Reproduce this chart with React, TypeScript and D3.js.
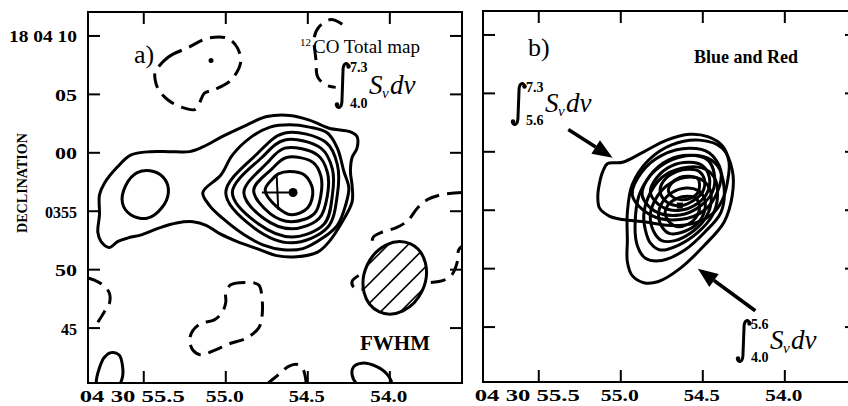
import React from 'react';
import * as d3 from 'd3';

type Pt = [number, number];

// ---------- axes ----------
const raTicks = [55.5, 55.0, 54.5, 54.0];
const raTickLabels = ['04 30 55.5', '55.0', '54.5', '54.0'];
const decTicks = [10, 5, 0, -5, -10, -15];
const decTickLabels = ['18 04 10', '05', '00', '0355', '50', '45'];
const raDomain: [number, number] = [55.84, 53.56];
const decDomain: [number, number] = [12.05, -19.7];

// ---------- panel a: 12CO total map (RA seconds, Dec arcsec offset from 18 04 00) ----------
const aOuter: Pt[] = [[55.77,-3.6],[55.74,-2.6],[55.66,-1.2],[55.58,-0.2],[55.46,0.1],[55.34,0.1],[55.22,0.1],[55.14,0.5],[55.02,1.4],[54.87,2.4],[54.75,3.1],[54.61,3.2],[54.49,2.8],[54.37,2.1],[54.24,1.8],[54.20,1.4],[54.20,0.4],[54.23,-0.4],[54.24,-1.6],[54.23,-2.8],[54.23,-4.2],[54.29,-5.9],[54.37,-7.6],[54.44,-8.5],[54.57,-8.9],[54.69,-8.8],[54.81,-8.2],[54.93,-7.6],[55.04,-6.9],[55.12,-6.2],[55.20,-5.9],[55.30,-6.0],[55.40,-6.4],[55.51,-7.0],[55.60,-7.3],[55.66,-7.6],[55.71,-8.1],[55.76,-7.6],[55.78,-6.8],[55.77,-5.3]];
const aWestBlob: Pt[] = [[55.61,-2.8],[55.54,-1.7],[55.44,-1.6],[55.37,-2.3],[55.35,-3.4],[55.39,-4.7],[55.48,-5.6],[55.58,-5.3],[55.63,-4.3]];
const aLevel2: Pt[] = [[55.14,-3.4],[55.03,-1.9],[54.96,-0.2],[54.85,1.3],[54.73,2.2],[54.61,2.4],[54.49,2.2],[54.38,1.7],[54.32,0.4],[54.28,-1.6],[54.25,-3.0],[54.27,-4.5],[54.32,-6.2],[54.41,-7.3],[54.53,-8.2],[54.65,-8.3],[54.77,-7.9],[54.89,-7.0],[55.02,-5.6],[55.10,-4.5]];
const aLevel3: Pt[] = [[55.00,-3.4],[54.81,-0.1],[54.64,1.7],[54.39,0.9],[54.32,-1.0],[54.32,-3.6],[54.38,-6.4],[54.60,-7.7],[54.83,-6.4]];
const aLevel4: Pt[] = [[54.96,-3.4],[54.78,-0.4],[54.64,1.1],[54.42,0.4],[54.35,-1.4],[54.35,-3.6],[54.40,-6.1],[54.60,-7.2],[54.80,-6.1]];
const aLevel5: Pt[] = [[54.89,-3.4],[54.75,-0.9],[54.64,0.4],[54.44,-0.2],[54.38,-1.7],[54.38,-3.6],[54.43,-5.6],[54.60,-6.5],[54.77,-5.6]];
const aLevel6: Pt[] = [[54.83,-3.2],[54.72,-1.4],[54.63,-0.4],[54.47,-0.8],[54.42,-2.0],[54.42,-3.6],[54.46,-5.2],[54.60,-5.9],[54.73,-5.2]];
const aLevel7: Pt[] = [[54.76,-3.2],[54.72,-2.3],[54.68,-1.8],[54.61,-1.6],[54.52,-1.9],[54.47,-3.2],[54.50,-4.7],[54.60,-5.3],[54.69,-4.6]];
const aSouthWestBlob: Pt[] = [[55.79,-19.7],[55.77,-18.4],[55.74,-17.5],[55.70,-17.1],[55.65,-17.3],[55.63,-18.2],[55.63,-19.2],[55.66,-20.1],[55.73,-20.6],[55.78,-20.3]];
const aSouthEastBlob: Pt[] = [[54.20,-19.8],[54.23,-19.0],[54.22,-18.3],[54.17,-18.0],[54.08,-18.3],[54.02,-18.9],[53.99,-19.8],[54.09,-20.5]];

const aNegNorth: Pt[] = [[55.43,6.9],[55.35,8.2],[55.23,9.0],[55.11,9.8],[54.99,9.8],[54.93,9.0],[54.91,7.7],[54.97,6.2],[55.07,5.4],[55.13,5.1],[55.16,4.3],[55.19,3.7],[55.27,3.9],[55.35,4.5],[55.41,5.4],[55.43,6.2]];
const aNegSouth: Pt[] = [[55.00,-12.0],[54.97,-11.3],[54.88,-11.1],[54.80,-11.3],[54.78,-12.3],[54.78,-14.1],[54.80,-15.0],[54.88,-15.9],[54.97,-16.3],[55.07,-16.9],[55.15,-17.3],[55.20,-16.9],[55.22,-16.0],[55.20,-15.2],[55.15,-14.6],[55.07,-14.3],[55.02,-13.6],[55.00,-12.8]];
const aNegNorthEast: Pt[] = [[54.29,11.0],[54.36,11.4],[54.43,10.8],[54.46,9.9],[54.45,7.9],[54.44,6.5],[54.39,5.8],[54.33,5.6]];
const aNegEastUpper: Pt[] = [[53.56,-3.4],[53.69,-3.6],[53.77,-4.0],[53.83,-4.7],[53.89,-5.8],[53.96,-6.4],[54.05,-6.8],[54.10,-7.2],[54.11,-7.7]];
const aNegEastLeft: Pt[] = [[54.19,-10.5],[54.23,-11.0],[54.22,-11.5],[54.17,-11.7]];
const aNegEastRight: Pt[] = [[53.75,-11.1],[53.67,-10.9],[53.62,-10.4],[53.59,-9.4],[53.58,-8.3],[53.56,-8.0]];
const aNegWest: Pt[] = [[55.84,-10.7],[55.80,-10.9],[55.75,-11.3],[55.71,-12.0],[55.71,-12.9],[55.74,-13.6],[55.78,-14.5]];
const aNegBottom: Pt[] = [[54.75,-19.8],[54.68,-19.0],[54.62,-18.3],[54.57,-18.1],[54.53,-18.5],[54.51,-19.7]];

const aPeak: Pt = [54.59, -3.4];
const aCrossH: Pt[] = [[54.78, -3.4], [54.59, -3.4]];
const aCrossV: Pt[] = [[54.69, -1.9], [54.68, -4.9]];
const aNorthDot: Pt = [55.09, 7.9];

const beamCenter: Pt = [53.97, -10.7];
const beamMajor = 6.4; // arcsec
const beamMinor = 5.2; // arcsec
const beamPA = -25; // degrees

// ---------- panel b: blue (5.6-7.3) and red (4.0-5.6) maps ----------
const bHigh: Pt[][] = [
  [[55.08,-1.0],[54.99,-0.9],[54.86,0.0],[54.72,1.0],[54.58,1.5],[54.47,1.3],[54.38,0.5],[54.34,-0.9],[54.35,-2.6],[54.38,-4.1],[54.44,-5.3],[54.55,-6.1],[54.70,-6.3],[54.85,-6.0],[54.99,-5.8],[55.07,-5.5],[55.13,-4.8],[55.14,-3.8],[55.13,-2.7],[55.11,-1.7]],
  [[54.93,-3.7],[54.87,-1.7],[54.75,-0.3],[54.58,0.3],[54.46,-0.1],[54.39,-1.6],[54.41,-3.4],[54.49,-5.0],[54.64,-5.8],[54.82,-5.4]],
  [[54.87,-3.7],[54.82,-2.0],[54.71,-0.7],[54.58,-0.3],[54.47,-0.7],[54.43,-1.9],[54.44,-3.4],[54.52,-4.7],[54.64,-5.4],[54.79,-5.1]],
  [[54.82,-3.5],[54.78,-2.2],[54.69,-1.2],[54.58,-0.9],[54.50,-1.2],[54.46,-2.2],[54.47,-3.4],[54.53,-4.4],[54.64,-5.0],[54.75,-4.7]],
  [[54.76,-3.4],[54.74,-2.5],[54.66,-1.7],[54.58,-1.5],[54.52,-1.7],[54.49,-2.4],[54.50,-3.4],[54.55,-4.1],[54.63,-4.6],[54.72,-4.3]],
  [[54.71,-3.3],[54.69,-2.7],[54.64,-2.2],[54.58,-2.1],[54.53,-2.3],[54.52,-2.9],[54.53,-3.5],[54.58,-4.0],[54.63,-4.1],[54.68,-3.9]],
];
const bLow: Pt[][] = [
  [[54.96,-5.2],[54.93,-2.8],[54.83,-0.7],[54.69,0.6],[54.52,1.0],[54.38,0.3],[54.32,-1.6],[54.32,-3.7],[54.37,-6.0],[54.49,-8.0],[54.64,-10.0],[54.77,-11.1],[54.86,-11.2],[54.93,-10.6],[54.96,-9.4],[54.96,-7.6]],
  [[54.91,-5.4],[54.88,-3.4],[54.79,-1.6],[54.65,-0.5],[54.50,-0.4],[54.41,-1.2],[54.37,-3.1],[54.39,-5.2],[54.49,-6.9],[54.61,-8.4],[54.75,-9.3],[54.85,-9.1],[54.90,-8.0]],
  [[54.86,-5.4],[54.83,-3.8],[54.75,-2.2],[54.63,-1.4],[54.50,-1.4],[54.43,-2.2],[54.41,-3.8],[54.44,-5.4],[54.53,-6.9],[54.65,-8.0],[54.76,-8.4],[54.82,-7.8],[54.85,-6.7]],
  [[54.82,-5.4],[54.79,-4.1],[54.72,-2.9],[54.61,-2.2],[54.52,-2.3],[54.46,-3.1],[54.45,-4.4],[54.49,-5.8],[54.57,-6.9],[54.67,-7.6],[54.75,-7.6],[54.80,-6.8]],
  [[54.77,-5.3],[54.75,-4.4],[54.69,-3.5],[54.60,-3.1],[54.53,-3.3],[54.49,-4.0],[54.49,-5.1],[54.53,-6.1],[54.61,-6.8],[54.70,-7.0],[54.75,-6.4]],
  [[54.73,-5.2],[54.71,-4.5],[54.66,-4.0],[54.59,-3.8],[54.54,-4.0],[54.52,-4.7],[54.54,-5.6],[54.59,-6.2],[54.66,-6.4],[54.71,-5.9]],
];
const bPeak: Pt = [54.64, -4.6];
const bArrowHigh: [Pt, Pt] = [[55.32, 1.9], [55.05, -0.5]];
const bArrowLow: [Pt, Pt] = [[54.18, -13.6], [54.53, -10.0]];

// ---------- layout ----------
const W = 848, H = 406;
const FX0 = 88, FX1 = 462, FY0 = 12, FY1 = 383;
const PANEL_B_DX = 395, PANEL_B_DY = -1;
const SERIF = "'Liberation Serif', 'Times New Roman', Times, serif";
const xLabelWidths = [105, 38, 36, 37];
const yLabelWidths = [68, 22, 22, 32, 22, 16];

const xScale = d3.scaleLinear().domain(raDomain).range([FX0, FX1]);
const yScale = d3.scaleLinear().domain(decDomain).range([FY0, FY1]);

const closedLine = d3.line<Pt>().x(d => xScale(d[0])).y(d => yScale(d[1])).curve(d3.curveCatmullRomClosed.alpha(0.5));
const openLine = d3.line<Pt>().x(d => xScale(d[0])).y(d => yScale(d[1])).curve(d3.curveCatmullRom.alpha(0.5));

const DASH = '15 8';

function Frame({ showYLabels }: { showYLabels: boolean }) {
  const t = 12;
  return (
    <g>
      <rect x={FX0} y={FY0} width={FX1 - FX0} height={FY1 - FY0} fill="none" stroke="#000" strokeWidth={2} />
      {raTicks.map((v, i) => (
        <g key={'xt' + i}>
          <line x1={xScale(v)} x2={xScale(v)} y1={FY1} y2={FY1 - t} stroke="#000" strokeWidth={2} />
          <line x1={xScale(v)} x2={xScale(v)} y1={FY0} y2={FY0 + t} stroke="#000" strokeWidth={2} />
          <text
            x={i === 0 ? xScale(v) + 41 : xScale(v) - 1}
            y={402}
            textAnchor={i === 0 ? 'end' : 'middle'}
            fontFamily={SERIF}
            fontWeight="bold"
            fontSize={16}
            textLength={xLabelWidths[i]}
            lengthAdjust="spacingAndGlyphs"
          >{raTickLabels[i]}</text>
        </g>
      ))}
      {decTicks.map((v, i) => (
        <g key={'yt' + i}>
          <line x1={FX0} x2={FX0 + t} y1={yScale(v)} y2={yScale(v)} stroke="#000" strokeWidth={2} />
          <line x1={FX1} x2={FX1 - t} y1={yScale(v)} y2={yScale(v)} stroke="#000" strokeWidth={2} />
          {showYLabels && (
            <text
              x={77}
              y={yScale(v) + 6.5}
              textAnchor="end"
              fontFamily={SERIF}
              fontWeight="bold"
              fontSize={17}
              textLength={yLabelWidths[i]}
              lengthAdjust="spacingAndGlyphs"
            >{decTickLabels[i]}</text>
          )}
        </g>
      ))}
    </g>
  );
}

function Integral({ x, y, h, lo, hi }: { x: number; y: number; h: number; lo: string; hi: string }) {
  const d = `M ${x + 13} ${y + 4} C ${x + 12} ${y - 1} ${x + 7} ${y - 1} ${x + 7} ${y + 8} L ${x + 6} ${y + h - 8} C ${x + 6} ${y + h + 1} ${x + 1} ${y + h + 1} ${x + 0.5} ${y + h - 3}`;
  const base = y + h * 0.68;
  return (
    <g fontFamily={SERIF}>
      <path d={d} fill="none" stroke="#000" strokeWidth={3} />
      <circle cx={x + 12.5} cy={y + 3.5} r={2.2} />
      <circle cx={x + 1} cy={y + h - 3.5} r={2.2} />
      <text x={x + 14} y={y + 9} fontSize={14} fontWeight="bold">{hi}</text>
      <text x={x + 14} y={y + h} fontSize={14} fontWeight="bold">{lo}</text>
      <text x={x + 33} y={base} fontSize={27} fontStyle="italic">S</text>
      <text x={x + 46} y={base + 4} fontSize={15} fontStyle="italic">ν</text>
      <text x={x + 54} y={base} fontSize={27} fontStyle="italic">dv</text>
    </g>
  );
}

function Arrow({ from, to }: { from: Pt; to: Pt }) {
  const x1 = xScale(from[0]), y1 = yScale(from[1]);
  const x2 = xScale(to[0]), y2 = yScale(to[1]);
  const a = Math.atan2(y2 - y1, x2 - x1);
  const L = 20, Wd = 8;
  const bx = x2 - L * Math.cos(a), by = y2 - L * Math.sin(a);
  const px = -Math.sin(a) * Wd, py = Math.cos(a) * Wd;
  return (
    <g>
      <line x1={x1} y1={y1} x2={bx} y2={by} stroke="#000" strokeWidth={3.5} />
      <path d={`M ${x2} ${y2} L ${bx + px} ${by + py} L ${bx - px} ${by - py} Z`} fill="#000" />
    </g>
  );
}

export default function App() {
  const solidA = [aOuter, aWestBlob, aLevel2, aLevel3, aLevel4, aLevel5, aLevel6, aLevel7, aSouthWestBlob, aSouthEastBlob];
  const dashedClosedA = [aNegNorth, aNegSouth];
  const dashedOpenA = [aNegNorthEast, aNegEastUpper, aNegEastLeft, aNegEastRight, aNegWest, aNegBottom];

  const pxPerArcsec = Math.abs(yScale(1) - yScale(0));
  const bcx = xScale(beamCenter[0]), bcy = yScale(beamCenter[1]);
  const brx = (beamMinor / 2) * pxPerArcsec, bry = (beamMajor / 2) * pxPerArcsec;
  const hatchOffsets = [-28, -14, 0, 14, 28];

  return (
    <svg width={W} height={H} viewBox={`0 0 ${W} ${H}`} style={{ position: 'absolute', left: 0, top: 0, background: '#fff' }}>
      <defs>
        <clipPath id="frameClip">
          <rect x={FX0} y={FY0} width={FX1 - FX0} height={FY1 - FY0} />
        </clipPath>
        <clipPath id="beamClip">
          <ellipse cx={bcx} cy={bcy} rx={brx} ry={bry} transform={`rotate(${-beamPA} ${bcx} ${bcy})`} />
        </clipPath>
      </defs>
      <rect x={0} y={0} width={W} height={H} fill="#fff" />

      {/* Panel a */}
      <g>
        <g clipPath="url(#frameClip)">
          {solidA.map((c, i) => (
            <path key={'sa' + i} d={closedLine(c) || ''} fill="none" stroke="#000" strokeWidth={3} />
          ))}
          {dashedClosedA.map((c, i) => (
            <path key={'dc' + i} d={closedLine(c) || ''} fill="none" stroke="#000" strokeWidth={3} strokeDasharray={DASH} />
          ))}
          {dashedOpenA.map((c, i) => (
            <path key={'do' + i} d={openLine(c) || ''} fill="none" stroke="#000" strokeWidth={3} strokeDasharray={DASH} />
          ))}
          <path d={openLine(aCrossH) || ''} stroke="#000" strokeWidth={2} fill="none" />
          <path d={openLine(aCrossV) || ''} stroke="#000" strokeWidth={2} fill="none" />
          <circle cx={xScale(aPeak[0])} cy={yScale(aPeak[1])} r={4.5} fill="#000" />
          <circle cx={xScale(aNorthDot[0])} cy={yScale(aNorthDot[1])} r={2.5} fill="#000" />
          {/* beam */}
          <ellipse cx={bcx} cy={bcy} rx={brx} ry={bry} transform={`rotate(${-beamPA} ${bcx} ${bcy})`} fill="#fff" stroke="none" />
          <g clipPath="url(#beamClip)">
            {hatchOffsets.map((o, i) => {
              const ox = bcx + (o / Math.SQRT2), oy = bcy + (o / Math.SQRT2);
              return <line key={'h' + i} x1={ox - 60} y1={oy + 60} x2={ox + 60} y2={oy - 60} stroke="#000" strokeWidth={1.6} />;
            })}
          </g>
          <ellipse cx={bcx} cy={bcy} rx={brx} ry={bry} transform={`rotate(${-beamPA} ${bcx} ${bcy})`} fill="none" stroke="#000" strokeWidth={3} />
        </g>
        <Frame showYLabels={true} />
      </g>

      {/* Panel b */}
      <g transform={`translate(${PANEL_B_DX},${PANEL_B_DY})`}>
        <g clipPath="url(#frameClip)">
          {bHigh.map((c, i) => (
            <path key={'bh' + i} d={closedLine(c) || ''} fill="none" stroke="#000" strokeWidth={3} />
          ))}
          {bLow.map((c, i) => (
            <path key={'bl' + i} d={closedLine(c) || ''} fill="none" stroke="#000" strokeWidth={3} />
          ))}
          <rect x={xScale(bPeak[0]) - 3} y={yScale(bPeak[1]) - 3} width={6} height={6} fill="#000" />
          <Arrow from={bArrowHigh[0]} to={bArrowHigh[1]} />
          <Arrow from={bArrowLow[0]} to={bArrowLow[1]} />
        </g>
        <Frame showYLabels={false} />
      </g>

      {/* Axis title */}
      <text transform="translate(27,183) rotate(-90)" textAnchor="middle" fontFamily={SERIF} fontWeight="bold" fontSize={14} textLength={100} lengthAdjust="spacingAndGlyphs">DECLINATION</text>

      {/* Panel a annotations */}
      <text x={134} y={63} fontFamily={SERIF} fontSize={26}>a)</text>
      <text x={300} y={46} fontFamily={SERIF} fontSize={11}>12</text>
      <text x={313} y={53} fontFamily={SERIF} fontSize={19}>CO Total map</text>
      <Integral x={336} y={63} h={45} lo="4.0" hi="7.3" />
      <text x={360} y={350} fontFamily={SERIF} fontWeight="bold" fontSize={22} textLength={70} lengthAdjust="spacingAndGlyphs">FWHM</text>

      {/* Panel b annotations */}
      <text x={528} y={56} fontFamily={SERIF} fontSize={26}>b)</text>
      <text x={694} y={63} fontFamily={SERIF} fontWeight="bold" fontSize={19} textLength={104} lengthAdjust="spacingAndGlyphs">Blue and Red</text>
      <Integral x={512} y={83} h={42} lo="5.6" hi="7.3" />
      <Integral x={737} y={320} h={42} lo="4.0" hi="5.6" />
    </svg>
  );
}
